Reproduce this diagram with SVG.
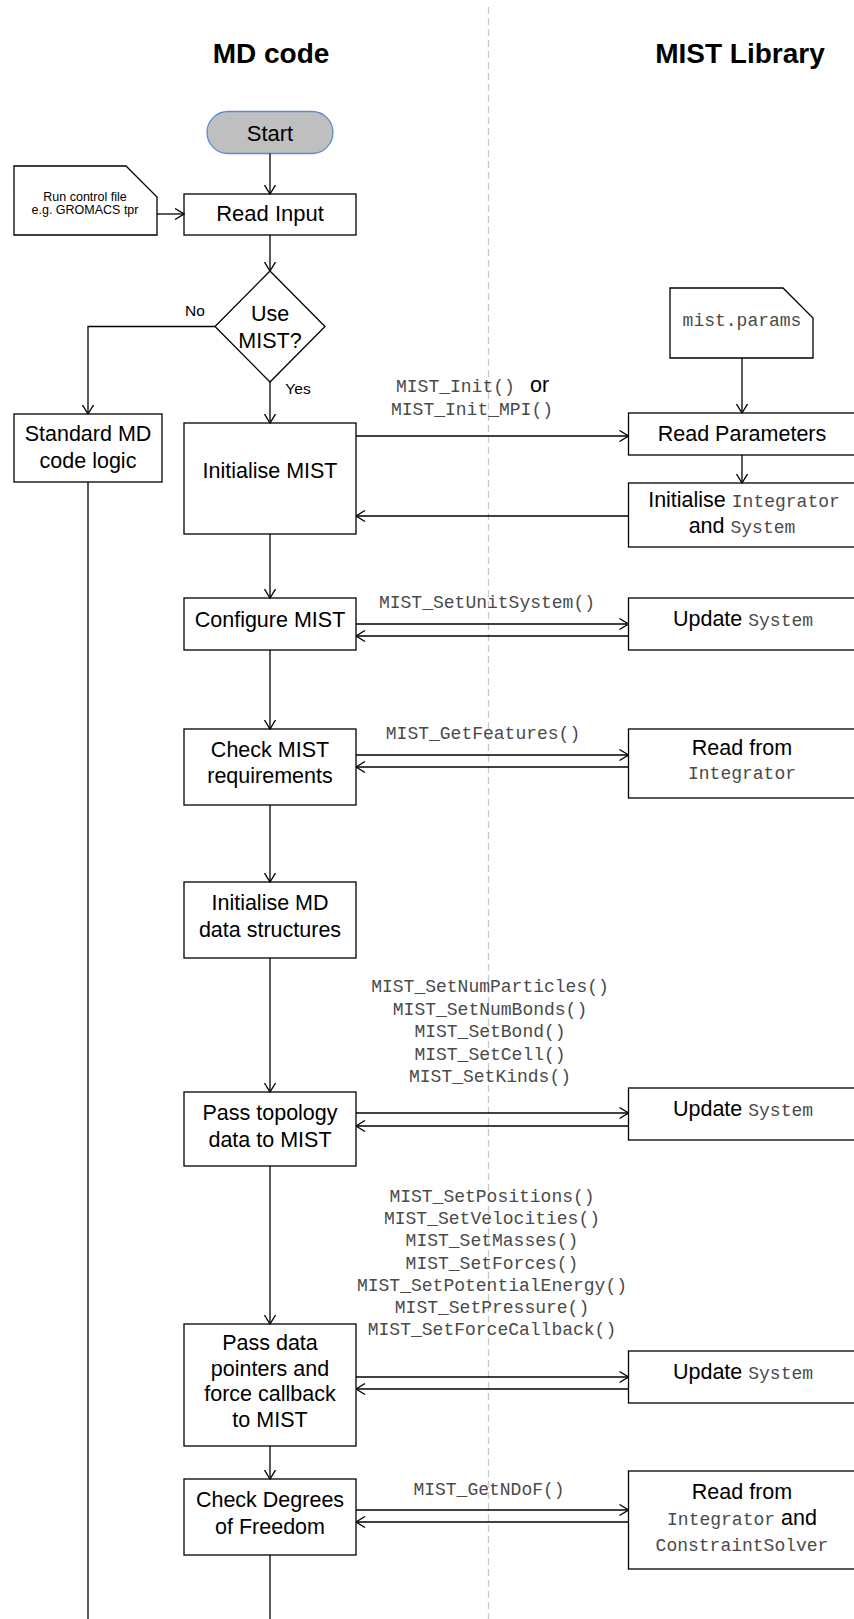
<svg xmlns="http://www.w3.org/2000/svg" width="854" height="1619" viewBox="0 0 854 1619">
<style>
.box{fill:#fff;stroke:#000;stroke-width:1.3}
.t{font-family:"Liberation Sans",Arial,sans-serif;font-size:21.5px;fill:#000;text-anchor:middle}
.m{font-family:"Liberation Mono","Courier New",monospace;font-size:18px;fill:#4a4a4a}
.ma{text-anchor:middle}
.sm{font-size:15.5px}
.tiny{font-size:12.5px}
.ttl{font-weight:bold;font-size:28px}
.ln{fill:none;stroke:#000;stroke-width:1.3}
.arr{marker-end:url(#ah)}
</style>
<defs>
<marker id="ah" viewBox="0 0 10 12" refX="9.5" refY="6" markerWidth="10" markerHeight="12" markerUnits="userSpaceOnUse" orient="auto">
<path d="M0.5,0.5 L9.5,6 L0.5,11.5" fill="none" stroke="#000" stroke-width="1.3"/>
</marker>
</defs>
<rect width="854" height="1619" fill="#fff"/>
<line x1="488.5" y1="7" x2="488.5" y2="1619" stroke="#c8c8c8" stroke-width="1.3" stroke-dasharray="7 4"/>
<g id="titles">
<text class="t ttl" x="271" y="63">MD code</text>
<text class="t ttl" x="740" y="63">MIST Library</text>
</g>
<g id="start">
<rect x="207" y="111.5" width="126" height="42" rx="21" fill="#bfbfbf" stroke="#5b8bd0" stroke-width="1.3"/>
<text class="t" style="font-size:22px" x="270" y="141">Start</text>
</g>
<g id="runcontrol">
<path class="box" d="M14,166 H126 L157,197 V235 H14 Z"/>
<text class="t tiny" x="85" y="201">Run control file</text>
<text class="t tiny" x="85" y="213.5">e.g. GROMACS tpr</text>
</g>
<g id="readinput">
<rect class="box" x="184" y="194" width="172" height="41"/>
<text class="t" style="font-size:22px" x="270" y="221">Read Input</text>
</g>
<g id="usemist">
<polygon class="box" points="270,271 325,326.5 270,382 215,326.5"/>
<text class="t" x="270" y="321">Use</text>
<text class="t" x="270" y="348">MIST?</text>
</g>
<g id="labels">
<text class="t sm" x="195" y="316">No</text>
<text class="t sm" x="298" y="394">Yes</text>
</g>
<g id="standardmd">
<rect class="box" x="14" y="414" width="148" height="68"/>
<text class="t" x="88" y="441">Standard MD</text>
<text class="t" x="88" y="468">code logic</text>
</g>
<g id="initmist">
<rect class="box" x="184" y="423" width="172" height="111"/>
<text class="t" x="270" y="478">Initialise MIST</text>
</g>
<g id="mistparams">
<path class="box" d="M670,288 H783 L813,318 V358 H670 Z"/>
<text class="m ma" x="742" y="326">mist.params</text>
</g>
<g id="readparams">
<rect class="box" x="628.5" y="413" width="240" height="42"/>
<text class="t" x="742" y="441">Read Parameters</text>
</g>
<g id="initintegrator">
<rect class="box" x="628.5" y="483" width="240" height="64"/>
<text class="t" x="744" y="507">Initialise <tspan class="m">Integrator</tspan></text>
<text class="t" x="742" y="533">and <tspan class="m">System</tspan></text>
</g>
<g id="configure">
<rect class="box" x="184" y="598" width="172" height="52"/>
<text class="t" x="270" y="627">Configure MIST</text>
</g>
<g id="update1">
<rect class="box" x="628.5" y="598" width="240" height="52"/>
<text class="t" x="743" y="626">Update <tspan class="m">System</tspan></text>
</g>
<g id="checkmist">
<rect class="box" x="184" y="729" width="172" height="76"/>
<text class="t" x="270" y="757">Check MIST</text>
<text class="t" x="270" y="783">requirements</text>
</g>
<g id="readfeatures">
<rect class="box" x="628.5" y="729" width="240" height="69"/>
<text class="t" x="742" y="755">Read from</text>
<text class="m ma" x="742" y="779">Integrator</text>
</g>
<g id="initmd">
<rect class="box" x="184" y="882" width="172" height="76"/>
<text class="t" x="270" y="910">Initialise MD</text>
<text class="t" x="270" y="937">data structures</text>
</g>
<g id="passtopology">
<rect class="box" x="184" y="1092" width="172" height="74"/>
<text class="t" x="270" y="1120">Pass topology</text>
<text class="t" x="270" y="1147">data to MIST</text>
</g>
<g id="update2">
<rect class="box" x="628.5" y="1088" width="240" height="52"/>
<text class="t" x="743" y="1116">Update <tspan class="m">System</tspan></text>
</g>
<g id="passdata">
<rect class="box" x="184" y="1324" width="172" height="122"/>
<text class="t" x="270" y="1350">Pass data</text>
<text class="t" x="270" y="1375.5">pointers and</text>
<text class="t" x="270" y="1401">force callback</text>
<text class="t" x="270" y="1426.5">to MIST</text>
</g>
<g id="update3">
<rect class="box" x="628.5" y="1351" width="240" height="52"/>
<text class="t" x="743" y="1379">Update <tspan class="m">System</tspan></text>
</g>
<g id="checkdof">
<rect class="box" x="184" y="1479" width="172" height="76"/>
<text class="t" x="270" y="1507">Check Degrees</text>
<text class="t" x="270" y="1534">of Freedom</text>
</g>
<g id="readdof">
<rect class="box" x="628.5" y="1471" width="240" height="98"/>
<text class="t" x="742" y="1498.5">Read from</text>
<text class="t" x="742" y="1524.5"><tspan class="m">Integrator</tspan> and</text>
<text class="m ma" x="742" y="1550.5">ConstraintSolver</text>
</g>
<g id="calllabels">
<text class="m" x="396" y="392">MIST_Init()</text>
<text class="t" style="text-anchor:start" x="530" y="392">or</text>
<text class="m" x="391" y="415">MIST_Init_MPI()</text>
<text class="m ma" x="487" y="608">MIST_SetUnitSystem()</text>
<text class="m ma" x="483" y="739">MIST_GetFeatures()</text>
<text class="m ma" x="490" y="992">MIST_SetNumParticles()</text>
<text class="m ma" x="490" y="1014.6">MIST_SetNumBonds()</text>
<text class="m ma" x="490" y="1037.2">MIST_SetBond()</text>
<text class="m ma" x="490" y="1059.8">MIST_SetCell()</text>
<text class="m ma" x="490" y="1082.4">MIST_SetKinds()</text>
<text class="m ma" x="492" y="1202">MIST_SetPositions()</text>
<text class="m ma" x="492" y="1224.2">MIST_SetVelocities()</text>
<text class="m ma" x="492" y="1246.4">MIST_SetMasses()</text>
<text class="m ma" x="492" y="1268.6">MIST_SetForces()</text>
<text class="m ma" x="492" y="1290.8">MIST_SetPotentialEnergy()</text>
<text class="m ma" x="492" y="1313">MIST_SetPressure()</text>
<text class="m ma" x="492" y="1335.2">MIST_SetForceCallback()</text>
<text class="m ma" x="489" y="1495">MIST_GetNDoF()</text>
</g>
<g id="connectors">
<path class="ln arr" d="M270,153.5 V194"/>
<path class="ln arr" d="M157,214 H184"/>
<path class="ln arr" d="M270,235 V271"/>
<path class="ln arr" d="M215,326.5 H88 V414"/>
<path class="ln arr" d="M270,382 V423"/>
<path class="ln" d="M88,482 V1625"/>
<path class="ln arr" d="M356,436 H628.5"/>
<path class="ln arr" d="M742,358 V413"/>
<path class="ln arr" d="M742,455 V483"/>
<path class="ln arr" d="M628.5,516 H356"/>
<path class="ln arr" d="M270,534 V598"/>
<path class="ln arr" d="M356,624 H628.5"/>
<path class="ln arr" d="M628.5,636 H356"/>
<path class="ln arr" d="M270,650 V729"/>
<path class="ln arr" d="M356,755 H628.5"/>
<path class="ln arr" d="M628.5,767 H356"/>
<path class="ln arr" d="M270,805 V882"/>
<path class="ln arr" d="M270,958 V1092"/>
<path class="ln arr" d="M356,1113 H628.5"/>
<path class="ln arr" d="M628.5,1126 H356"/>
<path class="ln arr" d="M270,1166 V1324"/>
<path class="ln arr" d="M356,1377 H628.5"/>
<path class="ln arr" d="M628.5,1389 H356"/>
<path class="ln arr" d="M270,1446 V1479"/>
<path class="ln arr" d="M356,1510 H628.5"/>
<path class="ln arr" d="M628.5,1522 H356"/>
<path class="ln" d="M270,1555 V1625"/>
</g>
</svg>
